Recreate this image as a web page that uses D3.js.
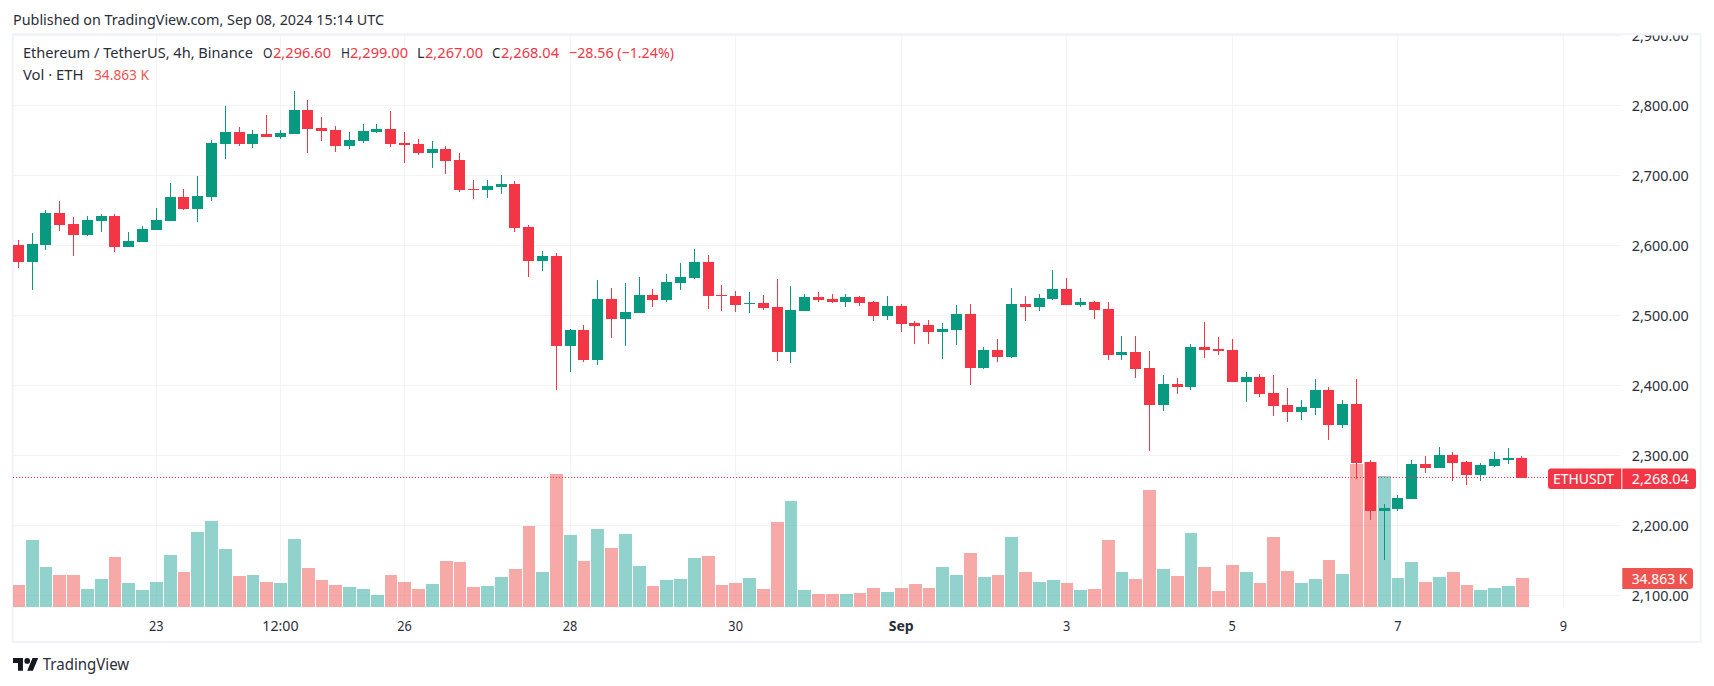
<!DOCTYPE html>
<html><head><meta charset="utf-8">
<script src="https://cdn.jsdelivr.net/npm/d3@7/dist/d3.min.js"></script>
<style>
html,body{margin:0;padding:0;background:#fff;overflow:hidden}
svg{display:block}
text{font-family:"Noto Sans",sans-serif;fill:#2a2e39}
</style></head><body><svg id="c" width="1714" height="686"></svg>
<script>
const opens=[2600.5,2576.2,2600.5,2646.2,2630.5,2614.8,2634.8,2641.9,2597.6,2604.8,2621.9,2634.8,2669.0,2651.9,2669.0,2744.8,2761.9,2744.8,2759.0,2754.8,2759.0,2793.3,2767.6,2764.8,2741.9,2749.0,2761.9,2766.2,2746.2,2744.8,2731.9,2737.6,2721.9,2680.5,2679.0,2683.3,2687.6,2626.2,2577.6,2584.8,2456.2,2479.0,2436.2,2523.3,2494.8,2503.3,2529.0,2521.9,2546.2,2553.3,2576.2,2529.0,2527.6,2516.2,2517.6,2511.9,2447.6,2506.2,2526.2,2523.3,2519.0,2526.2,2519.0,2499.0,2513.3,2489.0,2486.2,2476.2,2479.0,2501.9,2424.7,2450.4,2440.4,2516.2,2511.9,2523.3,2537.6,2514.7,2519.0,2509.0,2443.3,2447.6,2424.7,2371.9,2401.9,2397.6,2454.7,2451.9,2450.4,2404.7,2411.9,2389.0,2371.9,2361.9,2367.6,2393.3,2343.3,2373.3,2290.5,2220.5,2223.3,2237.6,2287.6,2281.9,2300.5,2290.5,2271.9,2284.8,2293.3,2296.6];
const highs=[2607.6,2617.6,2650.5,2663.3,2640.5,2641.9,2644.8,2644.8,2619.0,2627.6,2653.3,2689.0,2680.5,2699.0,2750.5,2799.0,2769.0,2764.8,2786.2,2764.8,2820.5,2807.6,2783.3,2770.5,2761.9,2773.3,2773.3,2791.9,2761.9,2751.9,2749.0,2741.9,2731.9,2693.3,2693.3,2700.5,2691.9,2629.0,2591.9,2589.0,2480.5,2486.2,2550.5,2539.0,2546.2,2554.8,2537.6,2559.0,2574.8,2594.8,2586.2,2543.3,2534.8,2533.3,2529.0,2551.9,2541.9,2530.5,2533.3,2530.5,2530.5,2527.6,2520.5,2527.6,2516.2,2491.9,2493.3,2489.0,2514.7,2516.2,2454.7,2466.2,2539.0,2527.6,2530.4,2564.7,2553.3,2524.7,2520.4,2519.0,2470.4,2470.4,2449.0,2414.7,2410.4,2459.0,2490.4,2469.0,2466.2,2419.0,2416.2,2414.7,2396.2,2379.0,2409.0,2397.6,2379.0,2409.0,2293.3,2230.5,2243.3,2293.3,2299.0,2311.9,2304.8,2291.9,2289.0,2304.8,2310.5,2299.0];
const lows=[2567.6,2536.2,2593.3,2620.5,2584.8,2613.3,2619.0,2590.5,2597.6,2604.8,2621.9,2634.8,2650.5,2633.3,2663.3,2723.3,2741.9,2739.0,2754.8,2751.9,2759.0,2731.9,2749.0,2733.3,2737.6,2746.2,2760.5,2740.5,2717.6,2729.0,2710.5,2701.9,2676.2,2666.2,2667.6,2673.3,2619.0,2554.8,2563.3,2393.3,2419.0,2433.3,2429.0,2467.6,2456.2,2503.3,2511.9,2519.0,2536.2,2551.9,2509.0,2506.2,2504.8,2503.3,2507.6,2434.8,2431.9,2506.2,2519.0,2517.6,2511.9,2513.3,2491.9,2493.3,2476.2,2459.0,2459.0,2437.6,2457.6,2400.4,2423.3,2433.3,2439.0,2491.9,2506.2,2521.9,2514.7,2511.9,2494.7,2436.2,2436.2,2410.4,2306.2,2363.3,2387.6,2393.3,2439.0,2443.3,2404.7,2376.2,2383.3,2356.2,2347.6,2350.5,2357.6,2321.9,2339.0,2266.2,2207.6,2150.5,2220.5,2237.6,2274.8,2281.9,2263.3,2257.6,2263.3,2283.3,2287.6,2267.0];
const closes=[2576.2,2601.9,2646.2,2629.0,2614.8,2636.2,2641.9,2597.6,2606.2,2623.3,2636.2,2669.0,2651.9,2670.5,2746.2,2761.9,2744.8,2759.0,2754.8,2760.5,2793.3,2766.2,2763.3,2741.9,2750.5,2763.3,2766.2,2744.8,2743.3,2731.9,2737.6,2720.5,2679.0,2679.0,2684.8,2687.6,2624.8,2577.6,2584.8,2456.2,2479.0,2436.2,2523.3,2494.8,2504.8,2529.0,2521.9,2547.6,2554.8,2576.2,2527.6,2527.6,2514.8,2517.6,2510.5,2447.6,2507.6,2526.2,2521.9,2519.0,2526.2,2517.6,2499.0,2513.3,2487.6,2484.7,2476.2,2480.4,2501.9,2424.7,2450.4,2440.4,2516.2,2511.9,2524.7,2537.6,2514.7,2519.0,2507.6,2443.3,2447.6,2423.3,2371.9,2401.9,2397.6,2454.7,2450.4,2449.0,2404.7,2411.9,2387.6,2370.4,2361.9,2369.0,2393.3,2343.3,2373.3,2289.0,2220.5,2224.8,2239.0,2287.6,2281.9,2300.5,2289.0,2271.9,2286.2,2294.8,2296.2,2268.04];
const volumes=[26.4,80.5,48.1,38.5,38.5,21.6,33.7,60.1,28.9,20.4,30.1,62.5,42.1,90.2,103.4,69.7,37.3,38.5,30.1,28.9,81.7,46.9,32.5,26.4,24.0,21.6,14.4,38.5,30.1,21.6,27.6,55.3,54.1,24.0,25.2,36.1,45.7,97.4,42.1,159.9,86.6,55.3,93.8,70.9,87.8,49.3,25.2,32.5,33.7,58.9,61.3,26.4,28.9,34.9,21.6,102.2,127.4,20.4,15.6,15.6,15.6,16.8,22.8,18.0,22.8,27.6,22.8,48.1,38.5,64.9,36.1,38.5,84.1,42.1,30.1,32.5,28.9,20.4,21.6,80.5,42.1,33.7,140.7,45.7,37.3,89.0,48.1,19.2,50.5,42.1,28.9,84.1,43.3,28.9,33.7,56.5,39.7,171.9,174.3,157.5,34.9,54.1,30.1,36.1,42.1,26.4,20.4,22.8,25.2,34.863];
const firstBar=Date.UTC(2024,7,21,8), barHours=4;
const priceTicks=[2100,2200,2300,2400,2500,2600,2700,2800,2900];
const timeTicks=[Date.UTC(2024,7,23),Date.UTC(2024,7,24,12),Date.UTC(2024,7,26),Date.UTC(2024,7,28),Date.UTC(2024,7,30),Date.UTC(2024,8,1),Date.UTC(2024,8,3),Date.UTC(2024,8,5),Date.UTC(2024,8,7),Date.UTC(2024,8,9)];
const timeLabels=["23","12:00","26","28","30","Sep","3","5","7","9"];
const lastClose=2268.04, lastVolume=34.863;

const UP="#089981",DOWN="#F23645",UPV="rgba(38,166,154,0.5)",DOWNV="rgba(239,83,80,0.5)",GRID="#f3f4f6",BORDER="#F0F3FA";
const FS=14.5;
const times=opens.map((_,i)=>firstBar+i*barHours*36e5);
const x=d3.scaleUtc().domain([firstBar,times[times.length-1]]).range([18.3,1521.95]);
const y=d3.scaleLinear().domain([2100,2900]).range([595.33,35.33]);
const v=d3.scaleLinear().domain([0,180]).range([607,607-180*29/34.863]);
const svg=d3.select("#c");
const defs=svg.append("defs");
defs.append("clipPath").attr("id","pane").append("rect").attr("x",13).attr("y",35).attr("width",1608).attr("height",572);
defs.append("clipPath").attr("id","axis").append("rect").attr("x",1622).attr("y",35.5).attr("width",77).attr("height",605);

function txt(t,px,py,o={}){
  const e=svg.append("text").attr("x",px).attr("y",py).attr("dominant-baseline","central")
    .attr("font-size",o.size||FS).text(t);
  if(o.fill)e.style("fill",o.fill);
  if(o.w)e.attr("textLength",o.w).attr("lengthAdjust","spacingAndGlyphs");
  return e;
}
txt("Published on TradingView.com, Sep 08, 2024 15:14 UTC",13,19.3,{w:371});
svg.append("rect").attr("x",12.8).attr("y",34.2).attr("width",1687.8).attr("height",607.8).attr("fill","#fff").attr("stroke",BORDER).attr("stroke-width",2);

const pane=svg.append("g").attr("clip-path","url(#pane)");
pane.append("g").selectAll("line").data(priceTicks).join("line")
  .attr("x1",13).attr("x2",1621).attr("y1",d=>Math.floor(y(d))+.5).attr("y2",d=>Math.floor(y(d))+.5)
  .attr("stroke",GRID).attr("shape-rendering","crispEdges");
pane.append("g").selectAll("line").data(timeTicks).join("line")
  .attr("x1",d=>Math.floor(x(d))+.5).attr("x2",d=>Math.floor(x(d))+.5).attr("y1",35).attr("y2",607)
  .attr("stroke",GRID).attr("shape-rendering","crispEdges");

const idx=d3.range(opens.length);
const up=i=>closes[i]>=opens[i];
pane.append("g").selectAll("rect").data(idx).join("rect")
  .attr("x",i=>Math.round(x(times[i])-6.2))
  .attr("width",i=>Math.round(x(times[i])+6.6)-Math.round(x(times[i])-6.2))
  .attr("y",i=>Math.round(v(volumes[i])))
  .attr("height",i=>607-Math.round(v(volumes[i])))
  .attr("fill",i=>up(i)?UPV:DOWNV).attr("shape-rendering","crispEdges");
pane.append("g").selectAll("rect").data(idx).join("rect")
  .attr("x",i=>Math.floor(x(times[i]))).attr("width",1)
  .attr("y",i=>Math.round(y(highs[i])))
  .attr("height",i=>Math.round(y(lows[i]))-Math.round(y(highs[i])))
  .attr("fill",i=>up(i)?UP:DOWN).attr("shape-rendering","crispEdges");
pane.append("g").selectAll("rect").data(idx).join("rect")
  .attr("x",i=>Math.floor(x(times[i]))-5).attr("width",11)
  .attr("y",i=>Math.round(y(Math.max(opens[i],closes[i]))))
  .attr("height",i=>Math.max(1,Math.round(y(Math.min(opens[i],closes[i])))-Math.round(y(Math.max(opens[i],closes[i])))))
  .attr("fill",i=>up(i)?UP:DOWN).attr("shape-rendering","crispEdges");
pane.append("line").attr("x1",13).attr("x2",1621).attr("y1",Math.floor(y(lastClose))+.5).attr("y2",Math.floor(y(lastClose))+.5)
  .attr("stroke",DOWN).attr("stroke-dasharray","1 2");

const priceAxis=svg.append("g").attr("clip-path","url(#axis)").append("g").attr("transform","translate(1631.7,-0.7)")
  .call(d3.axisRight(y).tickValues(priceTicks).tickFormat(d3.format(",.2f")).tickSize(0).tickPadding(0).offset(0));
priceAxis.select(".domain").remove();
priceAxis.selectAll("text").attr("font-size",FS).attr("font-family",null).attr("dy",null).attr("dominant-baseline","central").attr("textLength",57).attr("lengthAdjust","spacingAndGlyphs");

const timeAxis=svg.append("g").attr("transform","translate(0,624.5)")
  .call(d3.axisBottom(x).tickValues(timeTicks).tickFormat((d,i)=>timeLabels[i]).tickSize(0).tickPadding(0).offset(0));
timeAxis.select(".domain").remove();
timeAxis.selectAll("text").attr("font-size",FS).attr("font-family",null).attr("y",0).attr("dy",null).attr("dominant-baseline","central")
  .attr("font-weight",(d,i)=>timeLabels[i]==="Sep"?700:400)
  .attr("textLength",(d,i)=>timeLabels[i]==="12:00"?36.3:timeLabels[i]==="Sep"?25:timeLabels[i].length*7.3)
  .attr("lengthAdjust","spacingAndGlyphs");

// last value labels
svg.append("path").attr("d","M1621.3 468.5H1551a3 3 0 0 0-3 3V486a3 3 0 0 0 3 3H1621.3Z").attr("fill",DOWN);
svg.append("path").attr("d","M1622.3 468.5H1693a3 3 0 0 1 3 3V486a3 3 0 0 1-3 3H1622.3Z").attr("fill",DOWN);
txt("ETHUSDT",1553,477.8,{w:61,fill:"#fff"});
txt(d3.format(",.2f")(lastClose),1631.7,477.8,{w:57,fill:"#fff"});
svg.append("path").attr("d","M1622.3 568H1690a3 3 0 0 1 3 3V586a3 3 0 0 1-3 3H1622.3Z").attr("fill","#EF5350");
txt(lastVolume.toFixed(3)+" K",1631.7,577.8,{w:55.6,fill:"#fff"});

// legend
const LY=52.3;
txt("Ethereum / TetherUS, 4h, Binance",23,LY,{w:230});
txt("O",263,LY,{w:9.5});
txt(d3.format(",.2f")(opens[109]),273,LY,{w:58,fill:DOWN});
txt("H",341,LY,{w:9});
txt(d3.format(",.2f")(highs[109]),350,LY,{w:58,fill:DOWN});
txt("L",417,LY,{w:7.5});
txt(d3.format(",.2f")(lows[109]),425,LY,{w:58,fill:DOWN});
txt("C",492,LY,{w:8.5});
txt(d3.format(",.2f")(lastClose),501,LY,{w:58,fill:DOWN});
txt("\u221228.56 (\u22121.24%)",569,LY,{w:105,fill:DOWN});
txt("Vol \u00b7 ETH",23,74.3,{w:60.5});
txt(lastVolume.toFixed(3)+" K",94,74.3,{w:55,fill:"#EF5350"});

// footer
svg.append("path").attr("transform","translate(13,655.2) scale(.71)").attr("fill","#131722")
  .attr("d","M14 22H7V11H0V4h14v18zM28 22h-8l7.5-18h8L28 22z");
svg.append("circle").attr("transform","translate(13,655.2) scale(.71)").attr("cx",20).attr("cy",8).attr("r",4).attr("fill","#131722");
txt("TradingView",42.7,663.5,{w:86.5,size:16});
</script></body></html>
